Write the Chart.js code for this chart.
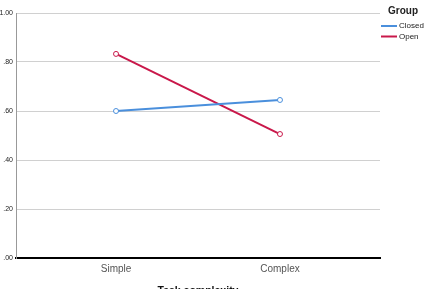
<!DOCTYPE html>
<html>
<head>
<meta charset="utf-8">
<script src="https://cdn.jsdelivr.net/npm/chart.js@4"></script>
<style>
  html, body { margin: 0; padding: 0; background: #fff; }
  #wrap { width: 425px; height: 289px; position: relative; }
</style>
</head>
<body>
<div id="wrap"><canvas id="myChart"></canvas></div>
<script>
// values
const categories = ['Simple', 'Complex'];
const closedValues = [0.60, 0.645];
const openValues = [0.833, 0.506];
const yTicks = [0, 0.2, 0.4, 0.6, 0.8, 1.0];
const groupLabels = ['Closed', 'Open'];
const groupColors = ['#4a8fdc', '#c9184a'];

const toPoints = vals => vals.map((v, i) => ({ x: i, y: v }));

// small legend in the right margin, like the SPSS one
const groupLegend = {
    id: 'groupLegend',
    afterDraw(chart) {
        const ctx = chart.ctx;
        const x0 = chart.chartArea.right + 1;
        ctx.save();
        ctx.fillStyle = '#222';
        ctx.font = 'bold 10px "Liberation Sans", Arial, sans-serif';
        ctx.textBaseline = 'middle';
        ctx.fillText('Group', x0 + 7, 11);
        ctx.font = '8px "Liberation Sans", Arial, sans-serif';
        chart.data.datasets.forEach((ds, i) => {
            const y = 26 + i * 10.5;
            ctx.strokeStyle = ds.borderColor;
            ctx.lineWidth = 2;
            ctx.beginPath();
            ctx.moveTo(x0, y);
            ctx.lineTo(x0 + 16, y);
            ctx.stroke();
            ctx.fillStyle = '#222';
            ctx.fillText(ds.label, x0 + 18, y);
        });
        ctx.restore();
    }
};

const chart = new Chart(document.getElementById('myChart').getContext('2d'), {
    type: 'line',
    data: {
        datasets: groupLabels.map((label, i) => ({
            label: label,
            data: toPoints(i === 0 ? closedValues : openValues),
            borderColor: groupColors[i],
            backgroundColor: '#fff',
            borderWidth: 2,
            pointRadius: 2.5,
            pointBorderWidth: 1,
            pointBackgroundColor: '#fff',
            tension: 0
        }))
    },
    options: {
        responsive: true,
        maintainAspectRatio: false,
        animation: false,
        layout: { padding: { top: 13, right: 45, left: 0, bottom: 0 } },
        plugins: {
            legend: { display: false },
            tooltip: { enabled: false }
        },
        scales: {
            x: {
                type: 'linear',
                min: -0.61,
                max: 1.61,
                afterBuildTicks: axis => { axis.ticks = categories.map((c, i) => ({ value: i })); },
                afterFit: axis => { axis.height = 31; },
                grid: { display: false, drawTicks: false },
                border: { color: '#000', width: 2 },
                ticks: {
                    padding: 5,
                    color: '#555',
                    font: { family: '"Liberation Sans", Arial, sans-serif', size: 10 },
                    callback: v => categories[v]
                },
                title: {
                    display: true,
                    text: 'Task complexity',
                    color: '#111',
                    font: { family: '"Liberation Sans", Arial, sans-serif', size: 10.5, weight: 'bold' },
                    padding: { top: 0, bottom: -8 }
                }
            },
            y: {
                min: 0,
                max: 1,
                afterBuildTicks: axis => { axis.ticks = yTicks.map(v => ({ value: v })); },
                afterFit: axis => { axis.width = 16; },
                grid: { color: '#d0d0d0', drawTicks: false },
                border: { color: '#999', width: 1 },
                ticks: {
                    padding: 3,
                    color: '#222',
                    font: { family: '"Liberation Sans", Arial, sans-serif', size: 7 },
                    callback: v => v.toFixed(2).replace(/^0/, '')
                }
            }
        }
    },
    plugins: [groupLegend]
});
</script>
</body>
</html>
